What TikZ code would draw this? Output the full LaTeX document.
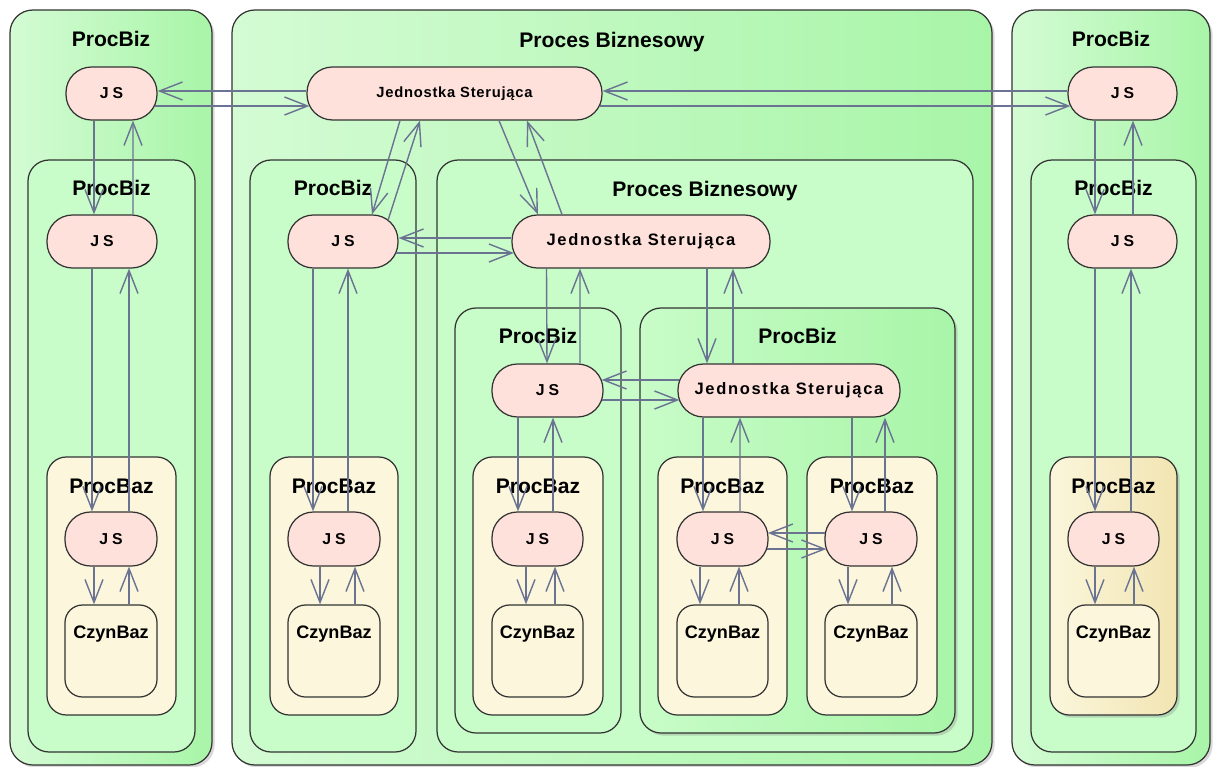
\documentclass[tikz,border=0pt]{standalone}
\usepackage{fontspec}
\setmainfont{Liberation Sans}
\usepackage{tikz}
\usetikzlibrary{arrows.meta, fit, calc, shadows}
\definecolor{bizlight}{HTML}{D4FBD4}
\definecolor{bizdeep}{HTML}{A8F5A8}
\definecolor{bizgreen}{HTML}{C8FCC8}
\definecolor{bazcream}{HTML}{FBF6DC}
\definecolor{baztan}{HTML}{F2E5B2}
\definecolor{jspink}{HTML}{FFE1DC}
\definecolor{linkgray}{HTML}{6B7392}
\definecolor{edgegray}{HTML}{333333}
\tikzstyle{outerbiz} = [rectangle, rounded corners=13pt, draw=edgegray, line width=0.7pt, inner sep=0pt, left color=bizlight, right color=bizdeep, drop shadow={shadow xshift=1.5pt, shadow yshift=-1.5pt, opacity=0.3}]
\tikzstyle{innerbiz} = [rectangle, rounded corners=12pt, draw=edgegray, line width=0.7pt, inner sep=0pt, fill=bizgreen]
\tikzstyle{shadedbiz} = [innerbiz, left color=bizgreen, right color=bizdeep, drop shadow={shadow xshift=1.5pt, shadow yshift=-1.5pt, opacity=0.3}]
\tikzstyle{procbaz} = [rectangle, rounded corners=11pt, draw=edgegray, line width=0.7pt, inner sep=0pt, fill=bazcream]
\tikzstyle{shadedbaz} = [procbaz, left color=bazcream, right color=baztan, drop shadow={shadow xshift=1.5pt, shadow yshift=-1.5pt, opacity=0.3}]
\tikzstyle{czyn} = [rectangle, rounded corners=10pt, draw=edgegray, line width=0.7pt, inner sep=0pt, fill=bazcream]
\tikzstyle{js} = [rectangle, rounded corners=14.5pt, draw=edgegray, line width=0.7pt, inner sep=0pt, fill=jspink, minimum height=1.06cm, font=\bfseries\fontsize{9}{11}\selectfont\addfontfeature{LetterSpace=25}]
\tikzstyle{jsbaz} = [js, minimum height=1.08cm]
\tikzstyle{jedtop} = [js, font=\bfseries\fontsize{8.4}{10}\selectfont\addfontfeature{LetterSpace=5}]
\tikzstyle{jed} = [js, font=\bfseries\fontsize{9.4}{11}\selectfont\addfontfeature{LetterSpace=10}]
\tikzstyle{ttl} = [anchor=base, inner sep=0pt, font=\bfseries\fontsize{12}{14}\selectfont]
\tikzstyle{czttl} = [anchor=base, inner sep=0pt, font=\bfseries\fontsize{10.3}{12}\selectfont]
\tikzstyle{flow} = [->, >={Straight Barb[length=0.46cm, width=0.36cm]}, draw=linkgray, line width=0.8pt]

\begin{document}
\begin{tikzpicture}[x=0.02cm, y=-0.02cm]
    \useasboundingbox (0,0) rectangle (1215,767);

    % left column
    \node (bizL) [outerbiz, fit={(10,10) (212,765)}] {};
    \node (bizLt) [ttl] at ([yshift=-0.74cm]bizL.north) {ProcBiz};
    \node (jsL1) [js, minimum width=1.82cm] at (111.5,93.5) {JS};
    \node (bizL2) [innerbiz, fit={(28,160) (195,752)}] {};
    \node (bizL2t) [ttl] at ([yshift=-0.72cm]bizL2.north) {ProcBiz};
    \node (jsL2) [js, minimum width=2.2cm] at (102,241.5) {JS};
    \node (bazL) [procbaz, fit={(47,457) (176,715)}] {};
    \node (bazLt) [ttl] at ([yshift=-0.74cm]bazL.north) {ProcBaz};
    \node (jsL3) [jsbaz, minimum width=1.84cm] at (111,539) {JS};
    \node (czL) [czyn, fit={(65,605) (157,697)}] {};
    \node (czLt) [czttl] at ([yshift=-0.68cm]czL.north) {CzynBaz};

    % middle column
    \node (bizM) [outerbiz, fit={(232,10) (992,765)}] {};
    \node (bizMt) [ttl] at ([yshift=-0.76cm]bizM.north) {Proces Biznesowy};
    \node (jedM1) [jedtop, minimum width=5.9cm] at (454.5,93.5) {Jednostka Sterująca};
    \node (bizM2) [innerbiz, fit={(250,160) (416,752)}] {};
    \node (bizM2t) [ttl] at ([yshift=-0.72cm]bizM2.north) {ProcBiz};
    \node (jsM2) [js, minimum width=2.2cm] at (343,241.5) {JS};
    \node (bazM) [procbaz, fit={(270,457) (398,715)}] {};
    \node (bazMt) [ttl] at ([yshift=-0.74cm]bazM.north) {ProcBaz};
    \node (jsM3) [jsbaz, minimum width=1.84cm] at (334,539) {JS};
    \node (czM) [czyn, fit={(288,605) (380,697)}] {};
    \node (czMt) [czttl] at ([yshift=-0.68cm]czM.north) {CzynBaz};

    \node (bizP) [innerbiz, fit={(437,160) (973,752)}] {};
    \node (bizPt) [ttl] at ([yshift=-0.74cm]bizP.north) {Proces Biznesowy};
    \node (jedP) [jed, minimum width=5.16cm] at (641,241.5) {Jednostka Sterująca};
    \node (bizP1) [innerbiz, fit={(455,308) (621,733)}] {};
    \node (bizP1t) [ttl] at ([yshift=-0.72cm]bizP1.north) {ProcBiz};
    \node (jsP1) [js, minimum width=2.22cm] at (547.5,390.5) {JS};
    \node (bazP) [procbaz, fit={(473,457) (603,715)}] {};
    \node (bazPt) [ttl] at ([yshift=-0.74cm]bazP.north) {ProcBaz};
    \node (jsP2) [jsbaz, minimum width=1.82cm] at (537.5,539) {JS};
    \node (czP) [czyn, fit={(492,605) (583,697)}] {};
    \node (czPt) [czttl] at ([yshift=-0.68cm]czP.north) {CzynBaz};

    \node (bizQ) [shadedbiz, fit={(640,308) (955,733)}] {};
    \node (bizQt) [ttl] at ([yshift=-0.72cm]bizQ.north) {ProcBiz};
    \node (jedQ) [jed, minimum width=4.44cm] at (789,390.5) {Jednostka Sterująca};
    \node (bazQa) [procbaz, fit={(658,457) (787,715)}] {};
    \node (bazQat) [ttl] at ([yshift=-0.74cm]bazQa.north) {ProcBaz};
    \node (jsQa) [jsbaz, minimum width=1.82cm] at (722.5,539) {JS};
    \node (czQa) [czyn, fit={(677,605) (768,697)}] {};
    \node (czQat) [czttl] at ([yshift=-0.68cm]czQa.north) {CzynBaz};
    \node (bazQb) [procbaz, fit={(807,457) (937,715)}] {};
    \node (bazQbt) [ttl] at ([yshift=-0.74cm]bazQb.north) {ProcBaz};
    \node (jsQb) [jsbaz, minimum width=1.84cm] at (871,539) {JS};
    \node (czQb) [czyn, fit={(825,605) (917,697)}] {};
    \node (czQbt) [czttl] at ([yshift=-0.68cm]czQb.north) {CzynBaz};

    % right column
    \node (bizR) [outerbiz, fit={(1012,10) (1210,765)}] {};
    \node (bizRt) [ttl] at ([yshift=-0.74cm]bizR.north) {ProcBiz};
    \node (jsR1) [js, minimum width=2.18cm] at (1122.5,93.5) {JS};
    \node (bizR2) [innerbiz, fit={(1031,160) (1196,752)}] {};
    \node (bizR2t) [ttl] at ([yshift=-0.72cm]bizR2.north) {ProcBiz};
    \node (jsR2) [js, minimum width=2.18cm] at (1122.5,241.5) {JS};
    \node (bazR) [shadedbaz, fit={(1050,457) (1177,715)}] {};
    \node (bazRt) [ttl] at ([yshift=-0.74cm]bazR.north) {ProcBaz};
    \node (jsR3) [jsbaz, minimum width=1.82cm] at (1113.5,539) {JS};
    \node (czR) [czyn, fit={(1068,605) (1159,697)}] {};
    \node (czRt) [czttl] at ([yshift=-0.68cm]czR.north) {CzynBaz};

    % left links
    \draw [flow] ($(jsL1.south)+(-17.5,0)$) -- ($(jsL2.north)+(-8,0)$);
    \draw [flow] ($(jsL2.north)+(31,0)$) -- ($(jsL1.south)+(21.5,0)$);
    \draw [flow] ($(jsL2.south)+(-10,0)$) -- ($(jsL3.north)+(-19,0)$);
    \draw [flow] ($(jsL3.north)+(18,0)$) -- ($(jsL2.south)+(27,0)$);
    \draw [flow] ($(jsL3.south)+(-17,0)$) -- ($(czL.north)+(-17,0)$);
    \draw [flow] ($(czL.north)+(18,0)$) -- ($(jsL3.south)+(18,0)$);
    \draw [flow] ($(jedM1.west)+(0,-2.5)$) -- ($(jsL1.east)+(0,-2.5)$);
    \draw [flow] ($(jsL1.east)+(-3,12.5)$) -- ($(jedM1.west)+(3,12.5)$);

    % middle links
    \draw [flow] ($(jedM1.south)+(-54.5,0)$) -- ($(jsM2.north)+(29,0)$);
    \draw [flow] ($(jsM2.north)+(45,6)$) -- ($(jedM1.south)+(-34.5,0)$);
    \draw [flow] ($(jedM1.south)+(44.5,0)$) -- ($(jedP.north)+(-103,0)$);
    \draw [flow] ($(jedP.north)+(-79,0)$) -- ($(jedM1.south)+(72.5,0)$);
    \draw [flow] ($(jedP.west)+(0,-3.5)$) -- ($(jsM2.east)+(0,-3.5)$);
    \draw [flow] ($(jsM2.east)+(-2.5,11.5)$) -- ($(jedP.west)+(2.5,11.5)$);
    \draw [flow] ($(jsM2.south)+(-30,0)$) -- ($(jsM3.north)+(-21,0)$);
    \draw [flow] ($(jsM3.north)+(14,0)$) -- ($(jsM2.south)+(5,0)$);
    \draw [flow] ($(jsM3.south)+(-14,0)$) -- ($(czM.north)+(-14,0)$);
    \draw [flow] ($(czM.north)+(21,0)$) -- ($(jsM3.south)+(21,0)$);

    \draw [flow] ($(jedP.south)+(-94.5,0)$) -- ($(jsP1.north)+(-0.5,0)$);
    \draw [flow] ($(jsP1.north)+(32.5,0)$) -- ($(jedP.south)+(-61,0)$);
    \draw [flow] ($(jedP.south)+(66,0)$) -- ($(jedQ.north)+(-82,0)$);
    \draw [flow] ($(jedQ.north)+(-56,0)$) -- ($(jedP.south)+(92,0)$);
    \draw [flow] ($(jedQ.west)+(2,-10.5)$) -- ($(jsP1.east)+(-2,-10.5)$);
    \draw [flow] ($(jsP1.east)+(-2,9.5)$) -- ($(jedQ.west)+(2,9.5)$);
    \draw [flow] ($(jsP1.south)+(-29.5,0)$) -- ($(jsP2.north)+(-19.5,0)$);
    \draw [flow] ($(jsP2.north)+(15.5,0)$) -- ($(jsP1.south)+(5.5,0)$);
    \draw [flow] ($(jsP2.south)+(-11.5,0)$) -- ($(czP.north)+(-11.5,0)$);
    \draw [flow] ($(czP.north)+(17.5,0)$) -- ($(jsP2.south)+(17.5,0)$);

    \draw [flow] ($(jedQ.south)+(-86,0)$) -- ($(jsQa.north)+(-19.5,0)$);
    \draw [flow] ($(jsQa.north)+(17.5,0)$) -- ($(jedQ.south)+(-49,0)$);
    \draw [flow] ($(jedQ.south)+(63,0)$) -- ($(jsQb.north)+(-19,0)$);
    \draw [flow] ($(jsQb.north)+(14,0)$) -- ($(jedQ.south)+(96,0)$);
    \draw [flow] ($(jsQb.west)+(0.7,-6)$) -- ($(jsQa.east)+(-0.7,-6)$);
    \draw [flow] ($(jsQa.east)+(-2,10)$) -- ($(jsQb.west)+(2,10)$);
    \draw [flow] ($(jsQa.south)+(-22.5,0)$) -- ($(czQa.north)+(-22.5,0)$);
    \draw [flow] ($(czQa.north)+(16.5,0)$) -- ($(jsQa.south)+(16.5,0)$);
    \draw [flow] ($(jsQb.south)+(-23,0)$) -- ($(czQb.north)+(-23,0)$);
    \draw [flow] ($(czQb.north)+(21,0)$) -- ($(jsQb.south)+(21,0)$);

    % right links
    \draw [flow] ($(jsR1.west)+(0,-2.5)$) -- ($(jedM1.east)+(0,-2.5)$);
    \draw [flow] ($(jedM1.east)+(-3,12.5)$) -- ($(jsR1.west)+(3,12.5)$);
    \draw [flow] ($(jsR1.south)+(-27.5,0)$) -- ($(jsR2.north)+(-27.5,0)$);
    \draw [flow] ($(jsR2.north)+(10.5,0)$) -- ($(jsR1.south)+(10.5,0)$);
    \draw [flow] ($(jsR2.south)+(-27.5,0)$) -- ($(jsR3.north)+(-18.5,0)$);
    \draw [flow] ($(jsR3.north)+(17.5,0)$) -- ($(jsR2.south)+(8.5,0)$);
    \draw [flow] ($(jsR3.south)+(-18.5,0)$) -- ($(czR.north)+(-18.5,0)$);
    \draw [flow] ($(czR.north)+(20.5,0)$) -- ($(jsR3.south)+(20.5,0)$);
\end{tikzpicture}
\end{document}
